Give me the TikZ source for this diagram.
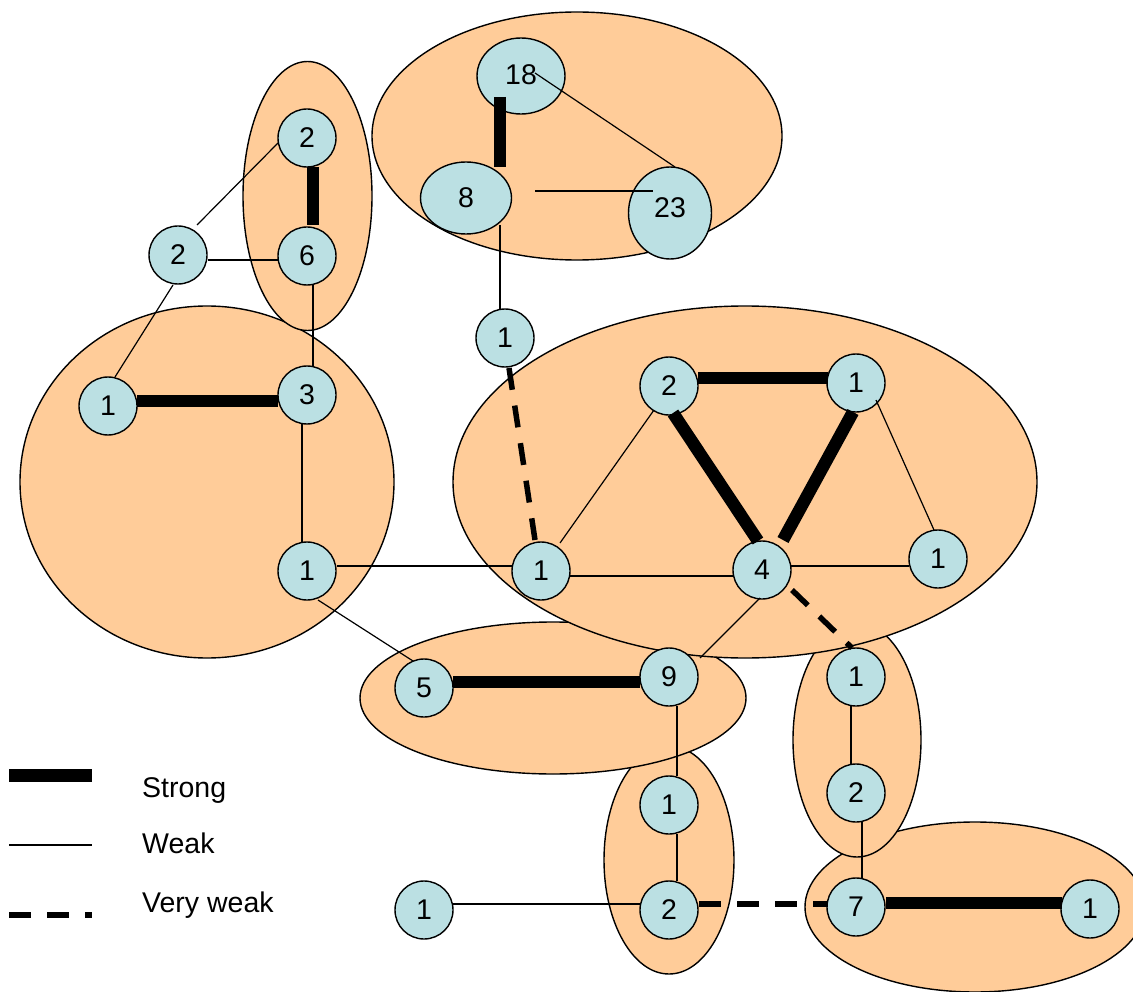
\documentclass[tikz,border=0pt]{standalone}
\usepackage{fontspec}
\setmainfont{Liberation Sans}
\usetikzlibrary{shapes.geometric,calc}
\definecolor{peach}{HTML}{FFCC99}
\definecolor{nodeblue}{HTML}{BBE0E3}
\begin{document}
\begin{tikzpicture}[x=1pt,y=-1pt,
  group/.style={draw=black, line width=1.4pt, fill=peach},
  member/.style={circle, draw=black, line width=1.4pt, fill=nodeblue,
    minimum size=58pt, inner sep=0pt, font=\fontsize{28.5}{32}\selectfont},
  oval/.style={member, ellipse},
  strongtie/.style={line width=12.5pt},
  weaktie/.style={line width=1.2pt},
  veryweaktie/.style={line width=5.5pt, dash pattern=on 22pt off 16pt},
  legendtext/.style={anchor=base west, inner sep=0pt, font=\fontsize{28.5}{32}\selectfont},
]
\useasboundingbox (0,0) rectangle (1133,992);

% groups, back to front
\draw[group] (207,482) ellipse [x radius=187pt, y radius=176pt];
\draw[group] (307.5,196) ellipse [x radius=64.5pt, y radius=134.5pt];
\draw[group] (577,136) ellipse [x radius=205pt, y radius=124pt];
\draw[group] (975,907) ellipse [x radius=170pt, y radius=85pt];
\draw[group] (857,740) ellipse [x radius=64pt, y radius=117pt];
\draw[group] (669,860) ellipse [x radius=65pt, y radius=114pt];
\draw[group] (553,698) ellipse [x radius=193pt, y radius=76pt];
\draw[group] (745,482) ellipse [x radius=292pt, y radius=176pt];

% actors
\node[oval, minimum width=88pt, minimum height=76pt] (n18) at (521,76) {\raisebox{3pt}{18}};
\node[oval, minimum width=91pt, minimum height=72pt] (n8) at (466,198) {8};
\node[oval, minimum width=83pt, minimum height=92pt] (n23) at (670,213) {\raisebox{10pt}{23}};
\node[member] (n2a) at (307,138) {2};
\node[member] (n6) at (307,256) {6};
\node[member] (n2b) at (178,255) {2};
\node[member] (n1a) at (108,406) {1};
\node[member] (n3) at (307,395) {3};
\node[member] (n1b) at (307,571) {1};
\node[member] (n1top) at (505,338) {1};
\node[member] (n2c) at (669,386) {2};
\node[member] (n1d) at (856,383) {1};
\node[member] (n1c) at (541,571) {1};
\node[member] (n4) at (762,570) {4};
\node[member] (n1e) at (938,559) {1};
\node[member] (n5) at (424,688) {5};
\node[member] (n9) at (669,677) {9};
\node[member] (n1f) at (856,677) {1};
\node[member] (n2d) at (856,793) {2};
\node[member] (n1g) at (669,805) {1};
\node[member] (n2e) at (669,910) {2};
\node[member] (n1h) at (424,910) {1};
\node[member] (n7) at (856,907) {7};
\node[member] (n1i) at (1090,909) {1};

% ties in the top group
\draw[strongtie] ($(n18)+(-21,21)$) -- ($(n8)+(34,-31)$);
\draw[weaktie] ($(n18)+(14,-3)$) -- ($(n23)+(5,-46)$);
\draw[weaktie] ($(n8)+(69,-7)$) -- ($(n23)+(-17,-22)$);
\draw[weaktie] ($(n8)+(34,27)$) -- ($(n1top)+(-5,-28)$);

% ties on the left
\draw[weaktie] ($(n2a)+(-29,5)$) -- ($(n2b)+(19,-30)$);
\draw[weaktie] ($(n2b)+(30,5)$) -- ($(n6)+(-29,4)$);
\draw[weaktie] ($(n2b)+(-5,30)$) -- ($(n1a)+(7,-29)$);
\draw[strongtie] ($(n2a)+(6,29)$) -- ($(n6)+(6,-31)$);
\draw[weaktie] ($(n6)+(6,28)$) -- ($(n3)+(6,-29)$);
\draw[strongtie] ($(n1a)+(29,-5)$) -- ($(n3)+(-29,6)$);
\draw[weaktie] ($(n3)+(-5,29)$) -- ($(n1b)+(-5,-28)$);
\draw[weaktie] ($(n1b)+(30,-5)$) -- ($(n1c)+(-29,-5)$);
\draw[weaktie] ($(n1b)+(11,29)$) -- ($(n5)+(-11,-27)$);

% ties on the right
\draw[veryweaktie] ($(n1top)+(4,30)$) -- ($(n1c)+(-6,-31)$);
\draw[strongtie] ($(n2c)+(29,-8)$) -- ($(n1d)+(-28,-5)$);
\draw[strongtie] ($(n2c)+(4,27)$) -- ($(n4)+(-4,-29)$);
\draw[strongtie] ($(n1d)+(-3,29)$) -- ($(n4)+(21,-30)$);
\draw[weaktie] ($(n1d)+(20,17)$) -- ($(n1e)+(-4,-29)$);
\draw[weaktie] ($(n2c)+(-15,24)$) -- ($(n1c)+(19,-28)$);
\draw[weaktie] ($(n1c)+(29,5)$) -- ($(n4)+(-28,6)$);
\draw[weaktie] ($(n4)+(29,-4)$) -- ($(n1e)+(-29,7)$);
\draw[weaktie] ($(n4)+(-2,28)$) -- ($(n9)+(31,-19)$);
\draw[veryweaktie] ($(n4)+(30,20)$) -- ($(n1f)+(-4,-29)$);

% ties at the bottom
\draw[strongtie] ($(n5)+(29,-6)$) -- ($(n9)+(-29,5)$);
\draw[weaktie] ($(n9)+(8,29)$) -- ($(n1g)+(8,-29)$);
\draw[weaktie] ($(n1g)+(8,29)$) -- ($(n2e)+(8,-29)$);
\draw[weaktie] ($(n1h)+(29,-6)$) -- ($(n2e)+(-29,-6)$);
\draw[veryweaktie] ($(n2e)+(30,-6)$) -- ($(n7)+(-28,-3)$);
\draw[weaktie] ($(n1f)+(-5,29)$) -- ($(n2d)+(-5,-29)$);
\draw[weaktie] ($(n2d)+(6,29)$) -- ($(n7)+(6,-29)$);
\draw[strongtie] ($(n7)+(30,-4)$) -- ($(n1i)+(-28,-6)$);

% legend
\coordinate (ls1) at (9,775);  \coordinate (le1) at (92,775);
\coordinate (ls2) at (9,845);  \coordinate (le2) at (92,845);
\coordinate (ls3) at (9,915);  \coordinate (le3) at (92,915);
\draw[line width=13pt] (ls1) -- (le1);
\draw[weaktie] (ls2) -- (le2);
\draw[veryweaktie] (ls3) -- (le3);
\node[legendtext] (lt1) at (142,797) {Strong};
\node[legendtext] (lt2) at (142,853) {Weak};
\node[legendtext] (lt3) at (142,912) {Very weak};
\end{tikzpicture}
\end{document}
